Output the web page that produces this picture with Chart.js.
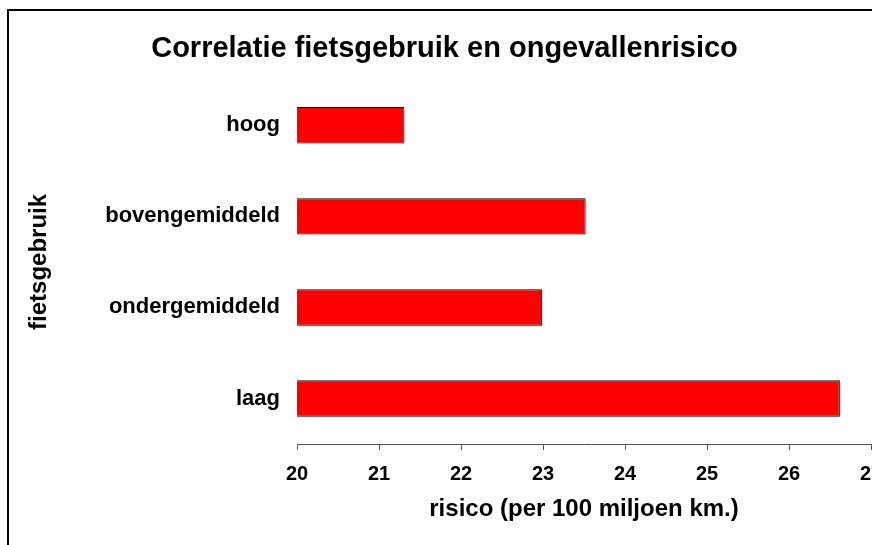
<!DOCTYPE html>
<html>
<head>
<meta charset="utf-8">
<script src="https://cdn.jsdelivr.net/npm/chart.js@4"></script>
<style>
  html, body { margin: 0; padding: 0; background: #fff; overflow: hidden; }
  #wrap { position: relative; width: 872px; height: 545px; }
  #frame { position: absolute; left: 7px; top: 9px; right: 0; bottom: 0;
           border-left: 2px solid #000; border-top: 2px solid #000; pointer-events: none; }
</style>
</head>
<body>
<div id="wrap">
  <canvas id="myChart" width="872" height="545"></canvas>
  <div id="frame"></div>
</div>
<script>
// data.....................
var categories = ["hoog", "bovengemiddeld", "ondergemiddeld", "laag"];
var risico = [21.31, 23.52, 22.99, 26.62];
var xMin = 20;
var xMax = 27;

var fontFam = "'Liberation Sans', Arial, sans-serif";

new Chart("myChart", {
  type: "bar",
  data: {
    labels: categories,
    datasets: [{
      data: risico,
      backgroundColor: "#FF0000",
      borderColor: "#000000",
      borderWidth: 1,
      borderSkipped: false,
      barPercentage: 0.4,
      categoryPercentage: 1
    }]
  },
  options: {
    indexAxis: "y",
    responsive: false,
    animation: false,
    layout: {
      padding: { left: 18, right: 1, top: 0, bottom: 0 }
    },
    plugins: {
      legend: { display: false },
      tooltip: { enabled: false },
      title: {
        display: true,
        text: "Correlatie fietsgebruik en ongevallenrisico",
        color: "#000",
        font: { family: fontFam, size: 29, weight: "bold" },
        padding: { top: 32, bottom: 13 }
      }
    },
    scales: {
      x: {
        min: xMin,
        max: xMax,
        ticks: {
          stepSize: 1,
          color: "#000",
          font: { family: fontFam, size: 20, weight: "bold" },
          padding: 12,
          maxRotation: 0
        },
        grid: {
          drawOnChartArea: false,
          drawTicks: true,
          tickLength: 6,
          color: "#555"
        },
        border: { display: true, color: "#555", width: 1 },
        title: {
          display: true,
          text: "risico (per 100 miljoen km.)",
          color: "#000",
          font: { family: fontFam, size: 24, weight: "bold" },
          padding: { top: 0, bottom: 21 }
        },
        afterFit: function (scale) {
          scale.height = 101;
          scale.paddingRight = 0;
          scale.paddingLeft = 0;
        }
      },
      y: {
        ticks: {
          color: "#000",
          font: { family: fontFam, size: 22, weight: "bold" },
          padding: 17
        },
        grid: { display: false, drawTicks: false },
        border: { display: false },
        title: {
          display: true,
          text: "fietsgebruik",
          color: "#000",
          font: { family: fontFam, size: 24, weight: "bold" },
          padding: { top: 7, bottom: 0 }
        },
        afterFit: function (scale) {
          scale.width = 279;
        }
      }
    }
  }
});
</script>
</body>
</html>
